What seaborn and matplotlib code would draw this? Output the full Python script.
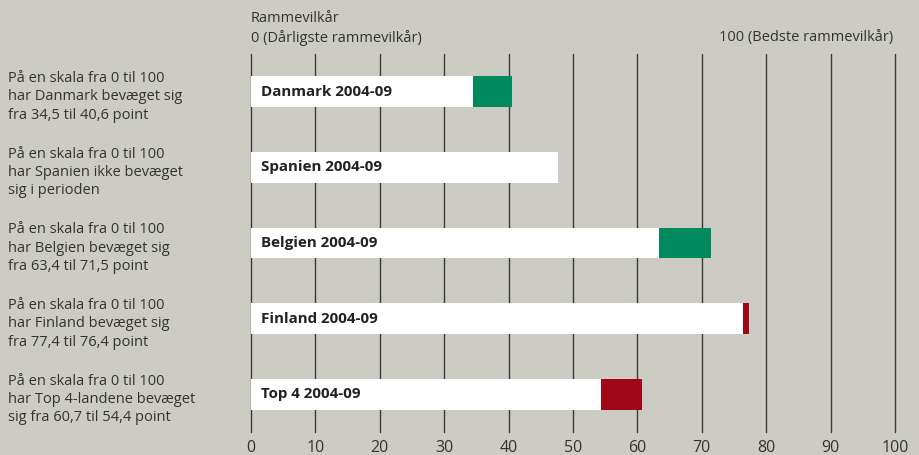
import matplotlib
matplotlib.use("Agg")
import matplotlib.pyplot as plt
import seaborn as sns
import pandas as pd

# Framework-condition scores (0-100), 2004 and 2009
labels = ["Danmark 2004-09", "Spanien 2004-09", "Belgien 2004-09",
          "Finland 2004-09", "Top 4 2004-09"]
score_2004 = [34.5, 47.6, 63.4, 77.4, 60.7]
score_2009 = [40.6, 47.6, 71.5, 76.4, 54.4]
notes = [
    "På en skala fra 0 til 100\nhar Danmark bevæget sig\nfra 34,5 til 40,6 point",
    "På en skala fra 0 til 100\nhar Spanien ikke bevæget\nsig i perioden",
    "På en skala fra 0 til 100\nhar Belgien bevæget sig\nfra 63,4 til 71,5 point",
    "På en skala fra 0 til 100\nhar Finland bevæget sig\nfra 77,4 til 76,4 point",
    "På en skala fra 0 til 100\nhar Top 4-landene bevæget\nsig fra 60,7 til 54,4 point",
]
ticks = [0, 10, 20, 30, 40, 50, 60, 70, 80, 90, 100]

BG = "#cccbc4"
GREEN = "#008a5e"
RED = "#a00818"
TEXT = "#333333"

sns.set_theme(style="white")
plt.rcParams["font.family"] = ["Open Sans", "DejaVu Sans"]

df = pd.DataFrame({
    "label": labels,
    "lo": [min(a, b) for a, b in zip(score_2004, score_2009)],
    "hi": [max(a, b) for a, b in zip(score_2004, score_2009)],
})
seg_colors = {l: (GREEN if b > a else RED if b < a else "white")
              for l, a, b in zip(labels, score_2004, score_2009)}

fig = plt.figure(figsize=(9.19, 4.55), dpi=100, facecolor=BG)
ax = fig.add_axes([251 / 919, 23 / 455, 644 / 919, 378 / 455])
ax.set_facecolor(BG)

# grid lines behind the bars
for t in ticks:
    ax.axvline(t, color="#3a3a3a", lw=1.0, zorder=0, clip_on=False)

# change segment (full length), then the white base on top
sns.barplot(data=df, x="hi", y="label", hue="label", palette=seg_colors,
            orient="h", width=0.41, saturation=1, legend=False, ax=ax,
            linewidth=0, zorder=2)
sns.barplot(data=df, x="lo", y="label", color="white", orient="h",
            width=0.41, saturation=1, ax=ax, linewidth=0, zorder=3)

ax.set_xlim(0, 100)
ax.set_ylim(4.5, -0.5)
ax.set_xticks(ticks)
ax.set_xticklabels([str(t) for t in ticks], fontsize=11.5, color=TEXT)
ax.set_yticks([])
ax.set_xlabel("")
ax.set_ylabel("")
ax.tick_params(axis="x", length=0, pad=6)
for s in ax.spines.values():
    s.set_visible(False)

for i, (lab, note) in enumerate(zip(labels, notes)):
    ax.text(1.5, i, lab, fontsize=10.9, fontweight="bold", color="#222222",
            va="center", ha="left", zorder=4)
    fig.text(8 / 919, 1 - (97 + 75.6 * i) / 455, note, fontsize=10.5,
             color=TEXT, va="center", ha="left", linespacing=1.3)

fig.text(251 / 919, 1 - 19 / 455, "Rammevilkår", fontsize=10.5, color=TEXT,
         va="center", ha="left")
fig.text(251 / 919, 1 - 38 / 455, "0 (Dårligste rammevilkår)", fontsize=10.5,
         color=TEXT, va="center", ha="left")
fig.text(893 / 919, 1 - 38 / 455, "100 (Bedste rammevilkår)", fontsize=10.5,
         color=TEXT, va="center", ha="right")

fig.savefig("out.png", dpi=100, facecolor=BG)
